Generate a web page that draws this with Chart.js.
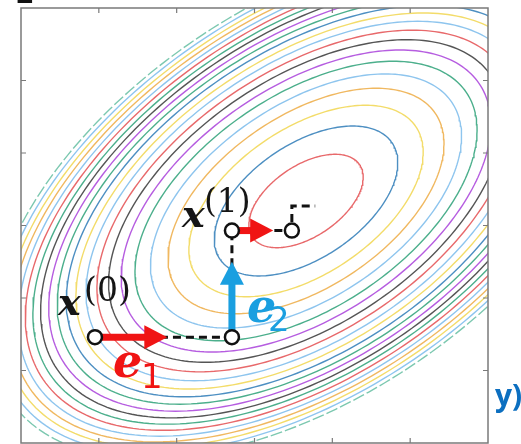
<!DOCTYPE html>
<html>
<head>
<meta charset="utf-8">
<script src="https://cdn.jsdelivr.net/npm/chart.js"></script>
<style>
  html, body { margin: 0; padding: 0; background: #fff; }
  canvas { display: block; }
</style>
</head>
<body>
<canvas id="cd" width="521" height="444"></canvas>
<script>
// Quadratic bowl f(d) = q11*dx^2 + 2*q12*dx*dy + q22*dy^2, d = p - centre
const centre = [0.662, 0.338];
const quad = [1.0, -0.58, 1.3];
const levels = [0.40, 1.03, 1.68, 2.33, 2.96, 3.58, 4.18, 4.77, 5.35, 5.92, 6.48,
                7.03, 7.57, 8.10, 8.62, 9.13, 9.64, 10.14, 10.64, 11.14, 11.64, 12.14];
const levelColors = ['#e8696b', '#4d8fc2', '#f3dc6a', '#f0b860', '#8ec5ee', '#4caf8c',
                     '#b65de0', '#555555', '#e8696b', '#8ec5ee', '#f3dc6a', '#4d8fc2',
                     '#4caf8c', '#b65de0', '#555555', '#4caf8c', '#e8696b', '#8ec5ee',
                     '#f0b860', '#f3dc6a', '#8ec5ee', '#7cc8b0'];

// coordinate descent: path through the iterates, then the start of the next sweep
const pathX = [-2.05, -0.29, -0.29, 0.48, 0.48, 0.78];
const pathY = [-1.54, -1.54, -0.07, -0.07, 0.27, 0.27];
const iterX = [-2.05, -0.29, -0.29, 0.48];
const iterY = [-1.54, -1.54, -0.07, -0.07];
// step arrows (start, tip)
const stepFrom = [[-2.05, -1.54], [-0.29, -1.54], [-0.29, -0.07]];
const stepTo   = [[-1.12, -1.54], [-0.29, -0.50], [0.24, -0.07]];
const stepColors = ['#f01414', '#1a9fe0', '#f01414'];

const tickValues = [-2, -1, 0, 1, 2];

function contour(level) {
  const [a, b, c] = quad;
  const th = 0.5 * Math.atan2(2 * b, a - c);
  const cs = Math.cos(th), sn = Math.sin(th);
  const l1 = a * cs * cs + 2 * b * sn * cs + c * sn * sn;
  const l2 = a * sn * sn - 2 * b * sn * cs + c * cs * cs;
  const r1 = Math.sqrt(level / l1), r2 = Math.sqrt(level / l2);
  const pts = [];
  for (let i = 0; i <= 240; i++) {
    const t = i / 240 * 2 * Math.PI;
    const u = r1 * Math.cos(t), v = r2 * Math.sin(t);
    pts.push({ x: centre[0] + cs * u - sn * v, y: centre[1] + sn * u + cs * v });
  }
  return pts;
}

const contourSets = levels.map((lv, i) => ({
  data: contour(lv),
  showLine: true,
  borderColor: levelColors[i],
  borderWidth: 1.4,
  borderDash: i === levels.length - 1 ? [12, 3] : [],
  pointRadius: 0,
  tension: 0,
  clip: 0,
  order: 2
}));

const pathSet = {
  data: pathX.map((x, i) => ({ x, y: pathY[i] })),
  showLine: true,
  borderColor: '#111',
  borderWidth: 3,
  borderDash: [8, 5],
  pointRadius: 0,
  tension: 0,
  order: 1
};

const iterSet = {
  data: iterX.map((x, i) => ({ x, y: iterY[i] })),
  showLine: false,
  pointRadius: 7,
  pointBackgroundColor: '#fff',
  pointBorderColor: '#111',
  pointBorderWidth: 2.5,
  order: 0
};

// math labels placed in data units (left edge, baseline)
const notes = [
  { text: 'x', at: [-2.525, -1.234], font: 'italic bold 38px "DejaVu Serif"', color: '#151515' },
  { text: '(0)', at: [-2.19, -1.04], font: '33px "DejaVu Serif"', color: '#151515' },
  { text: 'x', at: [-0.931, -0.021], font: 'italic bold 38px "DejaVu Serif"', color: '#151515' },
  { text: '(1)', at: [-0.649, 0.19], font: '33px "DejaVu Serif"', color: '#151515' },
  { text: 'e', at: [-1.818, -2.09], font: 'italic bold 46px "DejaVu Serif"', color: '#f01414' },
  { text: '1', at: [-1.458, -2.241], font: '34px "DejaVu Sans"', color: '#f01414' },
  { text: 'e', at: [-0.096, -1.331], font: 'italic bold 46px "DejaVu Serif"', color: '#1a9fe0' },
  { text: '2', at: [0.174, -1.455], font: '34px "DejaVu Sans"', color: '#1a9fe0' }
];

function drawArrow(ctx, x0, y0, x1, y1, color) {
  const ang = Math.atan2(y1 - y0, x1 - x0);
  const headLen = 23, headHalf = 12, shaft = 7;
  const bx = x1 - headLen * Math.cos(ang), by = y1 - headLen * Math.sin(ang);
  ctx.save();
  ctx.strokeStyle = color;
  ctx.fillStyle = color;
  ctx.lineWidth = shaft;
  ctx.beginPath();
  ctx.moveTo(x0, y0);
  ctx.lineTo(bx + Math.cos(ang), by + Math.sin(ang));
  ctx.stroke();
  ctx.beginPath();
  ctx.moveTo(x1, y1);
  ctx.lineTo(bx - headHalf * Math.sin(ang), by + headHalf * Math.cos(ang));
  ctx.lineTo(bx + headHalf * Math.sin(ang), by - headHalf * Math.cos(ang));
  ctx.closePath();
  ctx.fill();
  ctx.restore();
}

const decor = {
  id: 'decor',
  beforeDatasetDraw(chart, args) {
    if (chart.data.datasets[args.index] !== iterSet) return;
    const { ctx, scales: { x, y } } = chart;
    stepFrom.forEach((p, i) => {
      const q = stepTo[i];
      drawArrow(ctx, x.getPixelForValue(p[0]), y.getPixelForValue(p[1]),
                x.getPixelForValue(q[0]), y.getPixelForValue(q[1]), stepColors[i]);
    });
  },
  afterDraw(chart) {
    const { ctx, chartArea: ca, scales: { x, y } } = chart;
    ctx.save();
    // axes box with inward ticks
    ctx.strokeStyle = '#7a7a7a';
    ctx.lineWidth = 1.5;
    ctx.strokeRect(ca.left, ca.top, ca.right - ca.left, ca.bottom - ca.top);
    ctx.lineWidth = 1.2;
    ctx.beginPath();
    tickValues.forEach(v => {
      const px = x.getPixelForValue(v), py = y.getPixelForValue(v);
      ctx.moveTo(px, ca.top); ctx.lineTo(px, ca.top + 5);
      ctx.moveTo(px, ca.bottom); ctx.lineTo(px, ca.bottom - 5);
      ctx.moveTo(ca.left, py); ctx.lineTo(ca.left + 5, py);
      ctx.moveTo(ca.right, py); ctx.lineTo(ca.right - 5, py);
    });
    ctx.stroke();

    ctx.textBaseline = 'alphabetic';
    ctx.textAlign = 'left';
    notes.forEach(n => {
      ctx.font = n.font;
      ctx.fillStyle = n.color;
      ctx.fillText(n.text, x.getPixelForValue(n.at[0]), y.getPixelForValue(n.at[1]));
    });

    // panel mark above the box and caption to the right (both cut by the page edge)
    ctx.fillStyle = '#111';
    ctx.font = 'bold 28px "DejaVu Sans"';
    ctx.fillText('E', ca.left - 6, ca.top - 5);
    ctx.fillStyle = '#0c6fc0';
    ctx.font = 'bold 30px "Open Sans"';
    ctx.fillText('y)', ca.right + 7, ca.bottom - 37);
    ctx.restore();
  }
};

new Chart(document.getElementById('cd'), {
  type: 'scatter',
  data: { datasets: [...contourSets, pathSet, iterSet] },
  options: {
    responsive: false,
    animation: false,
    events: [],
    layout: { autoPadding: false, padding: { left: 21, top: 8, right: 33, bottom: 1 } },
    plugins: { legend: { display: false }, tooltip: { enabled: false } },
    scales: {
      x: { type: 'linear', min: -3, max: 3, display: false },
      y: { type: 'linear', min: -3, max: 3, display: false }
    }
  },
  plugins: [decor]
});
</script>
</body>
</html>
